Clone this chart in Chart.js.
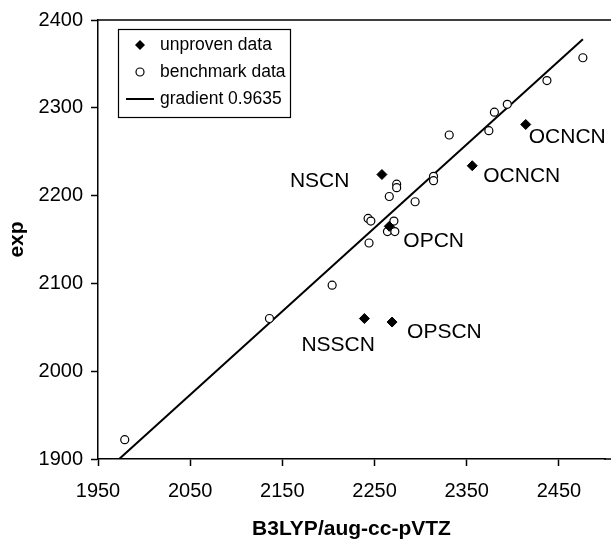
<!DOCTYPE html>
<html>
<head>
<meta charset="utf-8">
<script src="https://cdn.jsdelivr.net/npm/chart.js"></script>
<style>
  html, body { margin: 0; padding: 0; background: #fff; }
</style>
</head>
<body>
<canvas id="grafico" width="611" height="539"></canvas>
<script>
// unproven data (filled diamonds) with their labels
var unprovenX = [2258, 2356, 2414, 2266, 2239, 2269];
var unprovenY = [2224, 2234, 2281, 2165, 2060, 2056];
var unprovenNomes = ["NSCN", "OCNCN", "OCNCN", "OPCN", "NSSCN", "OPSCN"];

// benchmark data (open circles)
var benchX = [1979, 2136, 2204, 2243, 2246, 2244, 2264, 2272, 2271, 2266, 2274, 2274,
              2294, 2314, 2314, 2331, 2374, 2380, 2394, 2437, 2476];
var benchY = [1922, 2060, 2098, 2174, 2171, 2146, 2159, 2159, 2171, 2199, 2213, 2209,
              2193, 2222, 2217, 2269, 2274, 2295, 2304, 2331, 2357];

// fitted line, gradient 0.9635 (end points)
var retaX = [1973, 2476];
var retaY = [1900, 2378];

var xTicks = [1950, 2050, 2150, 2250, 2350, 2450];
var yTicks = [1900, 2000, 2100, 2200, 2300, 2400];

var legendaTextos = ["unproven data", "benchmark data", "gradient 0.9635"];

// label offsets in pixels from each diamond (style only)
var deslocLabel = [[-92, 7], [11, 10], [3, 13], [14, 15], [-63, 27], [15, 10]];

var fonte = "'Liberation Sans', Arial, sans-serif";

function pares(xs, ys) {
  var out = [];
  for (var i = 0; i < xs.length; i++) {
    out.push({ x: xs[i], y: ys[i] });
  }
  return out;
}

var extras = {
  id: "extras",
  afterDraw: function (chart) {
    var ctx = chart.ctx;
    var area = chart.chartArea;
    var sx = chart.scales.x;
    var sy = chart.scales.y;

    ctx.save();
    // top frame line and bottom axis running to the edge
    ctx.strokeStyle = "#000";
    ctx.lineWidth = 1.5;
    ctx.beginPath();
    ctx.moveTo(area.left, area.top);
    ctx.lineTo(611, area.top);
    ctx.moveTo(area.right - 1, area.bottom);
    ctx.lineTo(611, area.bottom);
    ctx.stroke();

    // point labels
    ctx.fillStyle = "#000";
    ctx.font = "21px " + fonte;
    ctx.textAlign = "left";
    ctx.textBaseline = "middle";
    for (var i = 0; i < unprovenNomes.length; i++) {
      var px = sx.getPixelForValue(unprovenX[i]) + deslocLabel[i][0];
      var py = sy.getPixelForValue(unprovenY[i]) + deslocLabel[i][1];
      ctx.fillText(unprovenNomes[i], px, py);
    }

    // legend box
    var bx = 118.5, by = 29.5, bw = 172, bh = 88;
    ctx.fillStyle = "#fff";
    ctx.fillRect(bx, by, bw, bh);
    ctx.lineWidth = 1.2;
    ctx.strokeRect(bx, by, bw, bh);

    var linhas = [45, 72, 99];
    var mx = 140;
    // diamond
    ctx.fillStyle = "#000";
    ctx.beginPath();
    ctx.moveTo(mx, linhas[0] - 5);
    ctx.lineTo(mx + 5, linhas[0]);
    ctx.lineTo(mx, linhas[0] + 5);
    ctx.lineTo(mx - 5, linhas[0]);
    ctx.closePath();
    ctx.fill();
    // circle
    ctx.beginPath();
    ctx.arc(mx, linhas[1], 4, 0, Math.PI * 2);
    ctx.fillStyle = "#fff";
    ctx.fill();
    ctx.lineWidth = 1.2;
    ctx.stroke();
    // line
    ctx.lineWidth = 2;
    ctx.beginPath();
    ctx.moveTo(126, linhas[2]);
    ctx.lineTo(154, linhas[2]);
    ctx.stroke();

    ctx.fillStyle = "#000";
    ctx.font = "17.5px " + fonte;
    for (var j = 0; j < legendaTextos.length; j++) {
      ctx.fillText(legendaTextos[j], 160, linhas[j]);
    }
    ctx.restore();
  }
};

var ctx = document.getElementById("grafico").getContext("2d");

var grafico = new Chart(ctx, {
  type: "scatter",
  data: {
    datasets: [
      {
        label: "unproven data",
        data: pares(unprovenX, unprovenY),
        pointStyle: "rectRot",
        pointRadius: 5,
        backgroundColor: "#000",
        borderColor: "#000",
        borderWidth: 1
      },
      {
        label: "benchmark data",
        data: pares(benchX, benchY),
        pointStyle: "circle",
        pointRadius: 4,
        backgroundColor: "#fff",
        borderColor: "#000",
        borderWidth: 1.2
      },
      {
        label: "gradient 0.9635",
        type: "line",
        data: pares(retaX, retaY),
        showLine: true,
        pointRadius: 0,
        borderColor: "#000",
        borderWidth: 2,
        fill: false
      }
    ]
  },
  options: {
    responsive: false,
    animation: false,
    devicePixelRatio: 1,
    layout: { padding: { top: 17, right: 0, left: 0, bottom: 0 } },
    plugins: {
      legend: { display: false },
      tooltip: { enabled: false }
    },
    scales: {
      x: {
        type: "linear",
        min: 1950,
        max: 2500,
        afterBuildTicks: function (s) {
          s.ticks = xTicks.map(function (v) { return { value: v }; });
        },
        afterFit: function (s) { s.height = 80; },
        ticks: {
          color: "#000",
          font: { family: fonte, size: 20 },
          padding: 13,
          maxRotation: 0,
          autoSkip: false,
          callback: function (v) { return String(v); }
        },
        grid: {
          drawOnChartArea: false,
          drawTicks: true,
          tickLength: 7,
          tickWidth: 1.5,
          tickColor: "#000"
        },
        border: { color: "#000", width: 1.5 },
        title: {
          display: true,
          text: "B3LYP/aug-cc-pVTZ",
          color: "#000",
          font: { family: fonte, size: 21, weight: "bold" },
          padding: { top: 3, bottom: -3 }
        }
      },
      y: {
        type: "linear",
        min: 1900,
        max: 2400,
        afterBuildTicks: function (s) {
          s.ticks = yTicks.map(function (v) { return { value: v }; });
        },
        afterFit: function (s) { s.width = 98; },
        ticks: {
          color: "#000",
          font: { family: fonte, size: 20 },
          padding: 8,
          autoSkip: false,
          callback: function (v) { return String(v); }
        },
        grid: {
          drawOnChartArea: false,
          drawTicks: true,
          tickLength: 7,
          tickWidth: 1.5,
          tickColor: "#000"
        },
        border: { color: "#000", width: 1.5 },
        title: {
          display: true,
          text: "exp",
          color: "#000",
          font: { family: fonte, size: 21, weight: "bold" },
          padding: { top: 5, bottom: 0 }
        }
      }
    }
  },
  plugins: [extras]
});
</script>
</body>
</html>
